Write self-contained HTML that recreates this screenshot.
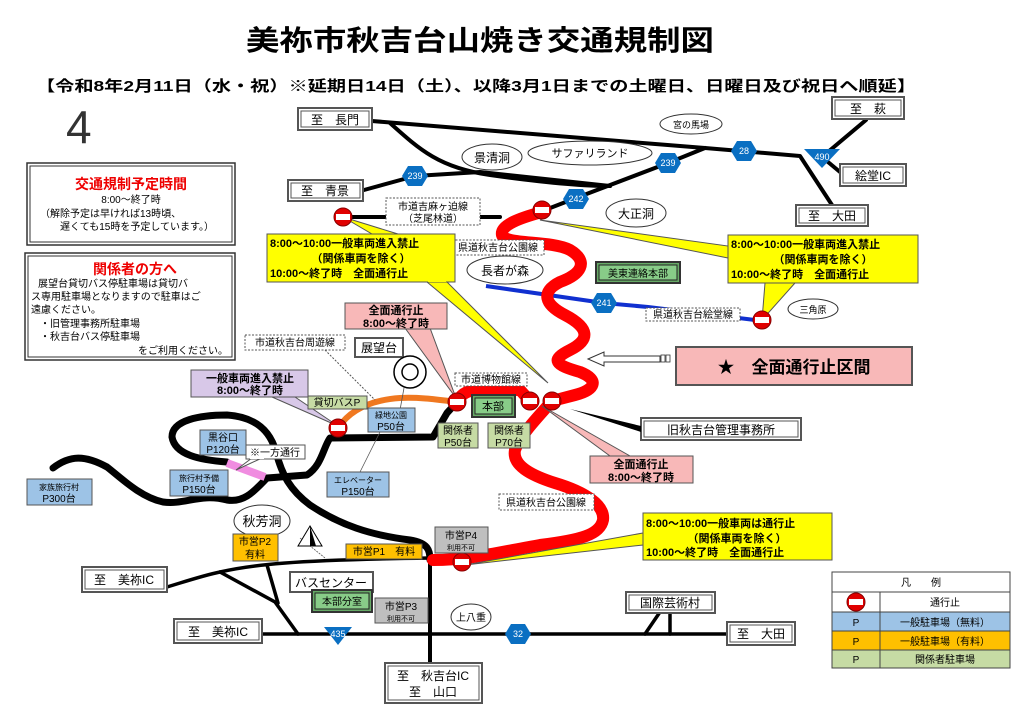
<!DOCTYPE html>
<html><head><meta charset="utf-8">
<style>
html,body{margin:0;padding:0;background:#fff;}
svg{display:block;}
text{font-family:"Liberation Sans","Noto Sans CJK JP",sans-serif;}
</style></head>
<body>
<svg width="1024" height="709" viewBox="0 0 1024 709" xmlns="http://www.w3.org/2000/svg">
<defs>
<g id="stop"><circle r="9" fill="#e00000" stroke="#800" stroke-width="1"/><rect x="-7" y="-3" width="14" height="6" fill="#fff"/></g>
<g id="hex"><polygon points="-13,0 -7,-10 7,-10 13,0 7,10 -7,10" fill="#0a6fc2"/></g>
</defs>

<!-- Title -->
<text x="480" y="50" font-size="28" font-weight="bold" text-anchor="middle" textLength="468" lengthAdjust="spacingAndGlyphs">美祢市秋吉台山焼き交通規制図</text>
<text x="36" y="91" font-size="15" font-weight="bold" textLength="880" lengthAdjust="spacingAndGlyphs">【令和8年2月11日（水・祝）※延期日14日（土）、以降3月1日までの土曜日、日曜日及び祝日へ順延】</text>
<text x="66" y="143" font-size="46" font-family="Liberation Serif" fill="#333">4</text>

<!-- Left info boxes -->
<rect x="27" y="163" width="208" height="82" fill="#fff" stroke="#333" stroke-width="1.5"/>
<rect x="30" y="166" width="202" height="76" fill="none" stroke="#333" stroke-width="1"/>
<text x="131" y="189" font-size="14" font-weight="bold" fill="#e00" text-anchor="middle">交通規制予定時間</text>
<text x="131" y="203" font-size="10" text-anchor="middle">8:00～終了時</text>
<text x="40" y="217" font-size="10">（解除予定は早ければ13時頃、</text>
<text x="60" y="230" font-size="10">遅くても15時を予定しています。）</text>

<rect x="25" y="253" width="210" height="107" fill="#fff" stroke="#333" stroke-width="1.5"/>
<rect x="28" y="256" width="204" height="101" fill="none" stroke="#333" stroke-width="1"/>
<text x="135" y="274" font-size="14" font-weight="bold" fill="#e00" text-anchor="middle">関係者の方へ</text>
<text x="38" y="287" font-size="10">展望台貸切バス停駐車場は貸切バ</text>
<text x="31" y="300" font-size="10">ス専用駐車場となりますので駐車はご</text>
<text x="31" y="313" font-size="10">遠慮ください。</text>
<text x="40" y="327" font-size="10">・旧管理事務所駐車場</text>
<text x="40" y="340" font-size="10">・秋吉台バス停駐車場</text>
<text x="138" y="354" font-size="10">をご利用ください。</text>

<!-- Black roads top -->
<g fill="none" stroke="#000" stroke-width="4" stroke-linecap="round" stroke-linejoin="round">
<path d="M372,121 L705,148 L800,156 L832,205"/>
<path d="M390,123 C420,150 440,168 490,175 C540,182 580,186 610,186"/>
<path d="M364,190 L415,176 L480,172 L610,186"/>
<path d="M545,210 L576,198 L668,163 L705,148"/>
<path d="M822,157 L866,120"/>
<path d="M822,157 L840,172"/>
<path d="M343,217 L500,217"/>
</g>
<!-- Blue road 241 -->
<path d="M486,286 L604,303 L648,307 L755,320" fill="none" stroke="#1030d0" stroke-width="4"/>

<!-- Black roads bottom -->
<g fill="none" stroke="#000" stroke-width="7" stroke-linecap="round" stroke-linejoin="round">
<path d="M457,402 L447,413 L433,437 L330,438 C323,448 322,465 307,475 L267,478"/>
<path d="M227,462 C200,460 175,455 172,437 C172,420 200,415 227,415 C255,417 270,430 276,452 C282,475 290,490 310,505 C340,525 370,535 410,540 C428,543 430,550 430,560"/>
<path d="M53,468 C70,455 85,455 107,467 C120,477 140,497 163,502 C185,505 200,493 227,500 C245,503 255,490 267,478"/>
</g>
<path d="M430,555 L430,664" stroke="#000" stroke-width="4" fill="none"/>
<path d="M227,463 L265,477" stroke="#f08ce0" stroke-width="8" fill="none"/>
<g fill="none" stroke="#000" stroke-width="3.5" stroke-linecap="round">
<path d="M167,587 C190,580 205,575 220,572 C250,565 290,560 430,558"/>
<path d="M220,572 L275,602 L298,634"/>
<path d="M267,565 L278,603"/>
<path d="M262,634 L727,634"/>
<path d="M645,634 L660,612"/>
<path d="M670,634 L670,612"/>
</g>
<!-- Orange road -->
<path d="M338,428 C350,410 370,400 400,398 C420,397 440,400 457,402" fill="none" stroke="#f07820" stroke-width="6"/>

<!-- Red road -->
<g fill="none" stroke="#f00" stroke-width="12" stroke-linecap="round" stroke-linejoin="round">
<path d="M542,212 C520,218 500,225 502,235 C505,245 550,240 570,250 C590,262 580,275 560,282 C540,292 545,305 565,315 C590,328 590,340 570,350 C550,360 555,365 580,372 C600,380 595,390 575,395 L552,401"/>
<path d="M457,402 C462,392 470,390 480,390 L520,390 L530,401"/>
<path d="M552,401 C540,415 520,435 515,450 C512,465 530,475 555,483 C585,492 605,505 603,520 C600,535 580,540 540,545 C500,552 470,560 433,560"/>
</g>

<!-- Destination boxes -->
<g font-size="12" fill="#000">
<g><rect x="298" y="108" width="74" height="22" fill="#fff" stroke="#555" stroke-width="2"/><rect x="301" y="111" width="68" height="16" fill="none" stroke="#555"/><text x="335" y="124" text-anchor="middle">至　長門</text></g>
<g><rect x="832" y="97" width="72" height="22" fill="#fff" stroke="#555" stroke-width="2"/><rect x="835" y="100" width="66" height="16" fill="none" stroke="#555"/><text x="868" y="113" text-anchor="middle">至　萩</text></g>
<g><rect x="840" y="164" width="66" height="22" fill="#fff" stroke="#555" stroke-width="2"/><rect x="843" y="167" width="60" height="16" fill="none" stroke="#555"/><text x="873" y="180" text-anchor="middle">絵堂IC</text></g>
<g><rect x="796" y="205" width="72" height="21" fill="#fff" stroke="#555" stroke-width="2"/><rect x="799" y="208" width="66" height="15" fill="none" stroke="#555"/><text x="832" y="220" text-anchor="middle">至　大田</text></g>
<g><rect x="288" y="180" width="75" height="21" fill="#fff" stroke="#555" stroke-width="2"/><rect x="291" y="183" width="69" height="15" fill="none" stroke="#555"/><text x="325" y="195" text-anchor="middle">至　青景</text></g>
<g><rect x="82" y="567" width="85" height="25" fill="#fff" stroke="#555" stroke-width="2"/><rect x="85" y="570" width="79" height="19" fill="none" stroke="#555"/><text x="124" y="584" text-anchor="middle">至　美祢IC</text></g>
<g><rect x="174" y="619" width="88" height="24" fill="#fff" stroke="#555" stroke-width="2"/><rect x="177" y="622" width="82" height="18" fill="none" stroke="#555"/><text x="218" y="636" text-anchor="middle">至　美祢IC</text></g>
<g><rect x="727" y="622" width="68" height="23" fill="#fff" stroke="#555" stroke-width="2"/><rect x="730" y="625" width="62" height="17" fill="none" stroke="#555"/><text x="761" y="638" text-anchor="middle">至　大田</text></g>
<g><rect x="626" y="592" width="89" height="21" fill="#fff" stroke="#555" stroke-width="2"/><rect x="629" y="595" width="83" height="15" fill="none" stroke="#555"/><text x="670" y="607" text-anchor="middle">国際芸術村</text></g>
<g><rect x="385" y="663" width="97" height="40" fill="#fff" stroke="#555" stroke-width="2"/><rect x="388" y="666" width="91" height="34" fill="none" stroke="#555"/><text x="433" y="680" text-anchor="middle">至　秋吉台IC</text><text x="433" y="696" text-anchor="middle">至　山口</text></g>
<g><rect x="641" y="418" width="160" height="22" fill="#fff" stroke="#555" stroke-width="2"/><rect x="644" y="421" width="154" height="16" fill="none" stroke="#555"/><text x="721" y="434" text-anchor="middle">旧秋吉台管理事務所</text></g>
<g><rect x="290" y="572" width="83" height="20" fill="#fff" stroke="#555" stroke-width="2"/><text x="331" y="587" text-anchor="middle">バスセンター</text></g>
<g><rect x="355" y="338" width="48" height="19" fill="#fff" stroke="#555" stroke-width="2"/><text x="379" y="352" text-anchor="middle">展望台</text></g>
</g>
<!-- pointer to 管理事務所 -->
<polygon points="570,409 641,426 641,432" fill="#000"/>

<!-- Ellipses -->
<g fill="#fff" stroke="#333" stroke-width="1" font-size="12" text-anchor="middle">
<ellipse cx="492" cy="157" rx="30" ry="13"/><text x="492" y="162" stroke="none" fill="#000">景清洞</text>
<ellipse cx="590" cy="153" rx="62" ry="12"/><text x="590" y="157" stroke="none" fill="#000" font-size="11">サファリランド</text>
<ellipse cx="691" cy="124" rx="31" ry="10"/><text x="691" y="128" stroke="none" fill="#000" font-size="9">宮の馬場</text>
<ellipse cx="636" cy="213" rx="30" ry="14"/><text x="636" y="218" stroke="none" fill="#000">大正洞</text>
<ellipse cx="505" cy="270" rx="38" ry="14"/><text x="505" y="275" stroke="none" fill="#000">長者が森</text>
<ellipse cx="813" cy="309" rx="25" ry="10"/><text x="813" y="313" stroke="none" fill="#000" font-size="9">三角原</text>
<ellipse cx="262" cy="521" rx="28" ry="16"/><text x="262" y="526" stroke="none" fill="#000" font-size="13">秋芳洞</text>
<ellipse cx="471" cy="617" rx="20" ry="13"/><text x="471" y="621" stroke="none" fill="#000" font-size="10">上八重</text>
</g>

<!-- Route markers -->
<g font-size="9" fill="#fff" text-anchor="middle">
<use href="#hex" x="415" y="176"/><text x="415" y="179">239</text>
<use href="#hex" x="668" y="163"/><text x="668" y="166">239</text>
<use href="#hex" x="576" y="199"/><text x="576" y="202">242</text>
<use href="#hex" x="744" y="151"/><text x="744" y="154">28</text>
<use href="#hex" x="604" y="303"/><text x="604" y="306">241</text>
<use href="#hex" x="518" y="634"/><text x="518" y="637">32</text>
<polygon points="804,149 840,149 822,168" fill="#0a6fc2"/><text x="822" y="160">490</text>
<polygon points="324,627 352,627 338,645" fill="#0a6fc2"/><text x="338" y="637">435</text>
</g>

<!-- Dotted labels -->
<g font-size="10" fill="#000">
<rect x="386" y="198" width="94" height="27" fill="#fff" stroke="#555" stroke-dasharray="2,1.5"/><text x="433" y="210" text-anchor="middle">市道吉麻ヶ迫線</text><text x="433" y="222" text-anchor="middle">（芝尾林道）</text>
<rect x="452" y="240" width="92" height="15" fill="#fff" stroke="#555" stroke-dasharray="2,1.5"/><text x="498" y="251" text-anchor="middle">県道秋吉台公園線</text>
<rect x="646" y="308" width="94" height="13" fill="#fff" stroke="#555" stroke-dasharray="2,1.5"/><text x="693" y="318" text-anchor="middle">県道秋吉台絵堂線</text>
<rect x="245" y="335" width="100" height="15" fill="#fff" stroke="#555" stroke-dasharray="2,1.5"/><text x="295" y="346" text-anchor="middle">市道秋吉台周遊線</text>
<rect x="455" y="373" width="72" height="13" fill="#fff" stroke="#555" stroke-dasharray="2,1.5"/><text x="491" y="383" text-anchor="middle">市道博物館線</text>
<rect x="499" y="494" width="95" height="16" fill="#fff" stroke="#555" stroke-dasharray="2,1.5"/><text x="546" y="506" text-anchor="middle">県道秋吉台公園線</text>
</g>
<path d="M325,350 L375,400" stroke="#555" stroke-dasharray="2,1.5" fill="none"/>
<path d="M404,388 L400,410" stroke="#555" stroke-width="0.8" fill="none"/>
<path d="M380,432 L360,472" stroke="#555" stroke-width="0.8" fill="none"/>
<path d="M300,538 L325,558" stroke="#555" stroke-width="0.8" stroke-dasharray="2,1" fill="none"/>

<!-- Target circle -->
<circle cx="410" cy="372" r="16" fill="#fff" stroke="#000" stroke-width="1.5"/>
<circle cx="410" cy="372" r="8" fill="#fff" stroke="#000" stroke-width="1.5"/>
<!-- monument -->
<polygon points="310,526 298,546 322,546" fill="#fff" stroke="#000"/><polygon points="310,526 310,546 316,546" fill="#000"/>

<!-- Arrow to 全面通行止区間 -->
<polygon points="588,359 604,352 604,356 660,356 660,362 604,362 604,366" fill="#fff" stroke="#333"/>
<rect x="661" y="355" width="4" height="7" fill="#fff" stroke="#333" stroke-width="0.8"/><rect x="666" y="355" width="4" height="7" fill="#fff" stroke="#333" stroke-width="0.8"/>
<rect x="676" y="347" width="236" height="38" fill="#f8b8b8" stroke="#555" stroke-width="2"/>
<text x="794" y="373" font-size="17" font-weight="bold" text-anchor="middle">★　全面通行止区間</text>

<!-- Callouts yellow -->
<polygon points="372,234 398,234 343,217" fill="#ff0" stroke="#555"/>
<polygon points="427,282 447,282 548,383" fill="#ff0" stroke="#555"/>
<rect x="267" y="234" width="188" height="48" fill="#ff0" stroke="#555"/>
<polygon points="372,235 398,235 390,245" fill="#ff0"/>
<rect x="428" y="279" width="18" height="3" fill="#ff0"/>
<g font-size="11" font-weight="bold">
<text x="270" y="247">8:00～10:00一般車両進入禁止</text>
<text x="361" y="262" text-anchor="middle">（関係車両を除く）</text>
<text x="270" y="277">10:00～終了時　全面通行止</text>
</g>

<polygon points="728,246 728,258 540,220" fill="#ff0" stroke="#555"/>
<polygon points="765,283 795,283 762,320" fill="#ff0" stroke="#555"/>
<rect x="728" y="235" width="190" height="48" fill="#ff0" stroke="#555"/>
<g font-size="11" font-weight="bold">
<text x="731" y="248">8:00～10:00一般車両進入禁止</text>
<text x="823" y="263" text-anchor="middle">（関係車両を除く）</text>
<text x="731" y="278">10:00～終了時　全面通行止</text>
</g>

<polygon points="643,533 643,545 465,565" fill="#ff0" stroke="#555"/>
<rect x="643" y="513" width="189" height="47" fill="#ff0" stroke="#555"/>
<g font-size="11" font-weight="bold">
<text x="646" y="527">8:00～10:00一般車両は通行止</text>
<text x="737" y="542" text-anchor="middle">（関係車両を除く）</text>
<text x="646" y="556">10:00～終了時　全面通行止</text>
</g>

<!-- Pink callouts -->
<polygon points="405,328 430,328 456,398" fill="#f8b8b8" stroke="#555"/>
<rect x="345" y="303" width="102" height="26" fill="#f8b8b8" stroke="#555"/>
<g font-size="11" font-weight="bold" text-anchor="middle"><text x="396" y="314">全面通行止</text><text x="396" y="327">8:00～終了時</text></g>

<polygon points="610,456 630,456 542,406" fill="#f8b8b8" stroke="#555"/>
<rect x="590" y="456" width="103" height="27" fill="#f8b8b8" stroke="#555"/>
<g font-size="11" font-weight="bold" text-anchor="middle"><text x="641" y="468">全面通行止</text><text x="641" y="481">8:00～終了時</text></g>

<!-- Lavender callout -->
<polygon points="272,397 295,397 338,426" fill="#d8c8e8" stroke="#555"/>
<rect x="191" y="370" width="117" height="27" fill="#d8c8e8" stroke="#555"/>
<g font-size="11" font-weight="bold" text-anchor="middle"><text x="250" y="382">一般車両進入禁止</text><text x="250" y="394">8:00～終了時</text></g>

<!-- Stops -->
<use href="#stop" x="343" y="217"/>
<use href="#stop" x="542" y="210"/>
<use href="#stop" x="762" y="320"/>
<use href="#stop" x="457" y="402"/>
<use href="#stop" x="530" y="401"/>
<use href="#stop" x="552" y="401"/>
<use href="#stop" x="338" y="428"/>
<use href="#stop" x="462" y="562"/>

<!-- Green HQ boxes -->
<g font-size="10" text-anchor="middle">
<rect x="596" y="262" width="84" height="21" fill="#6a6" stroke="#333" stroke-width="2"/><rect x="599" y="265" width="78" height="15" fill="#8c8" stroke="#222"/><text x="638" y="277">美東連絡本部</text>
<rect x="472" y="395" width="43" height="22" fill="#6a6" stroke="#333" stroke-width="2"/><rect x="475" y="398" width="37" height="16" fill="#8c8" stroke="#222"/><text x="493" y="410" font-size="11">本部</text>
<rect x="312" y="590" width="60" height="22" fill="#6a6" stroke="#333" stroke-width="2"/><rect x="315" y="593" width="54" height="16" fill="#8c8" stroke="#222"/><text x="342" y="605">本部分室</text>
</g>

<!-- Parking boxes -->
<g font-size="10" text-anchor="middle">
<rect x="368" y="408" width="47" height="24" fill="#9dc3e6" stroke="#555"/><text x="391" y="418" font-size="8">緑地公園</text><text x="391" y="430">P50台</text>
<rect x="308" y="396" width="59" height="13" fill="#c6dba4" stroke="#555"/><text x="337" y="406">貸切バスP</text>
<rect x="438" y="423" width="40" height="25" fill="#c6dba4" stroke="#555"/><text x="458" y="434">関係者</text><text x="458" y="446">P50台</text>
<rect x="488" y="423" width="42" height="25" fill="#c6dba4" stroke="#555"/><text x="509" y="434">関係者</text><text x="509" y="446">P70台</text>
<rect x="200" y="430" width="46" height="25" fill="#9dc3e6" stroke="#555"/><text x="223" y="441">黒谷口</text><text x="223" y="453">P120台</text>
<rect x="170" y="470" width="58" height="26" fill="#9dc3e6" stroke="#555"/><text x="199" y="481" font-size="8">旅行村予備</text><text x="199" y="493">P150台</text>
<rect x="27" y="479" width="65" height="26" fill="#9dc3e6" stroke="#555"/><text x="59" y="490" font-size="8">家族旅行村</text><text x="59" y="502">P300台</text>
<rect x="327" y="472" width="62" height="25" fill="#9dc3e6" stroke="#555"/><text x="358" y="483" font-size="8">エレベーター</text><text x="358" y="495">P150台</text>
<rect x="233" y="534" width="45" height="27" fill="#ffc000" stroke="#555"/><text x="255" y="545">市営P2</text><text x="255" y="558">有料</text>
<rect x="346" y="544" width="76" height="15" fill="#ffc000" stroke="#555"/><text x="384" y="555">市営P1　有料</text>
<rect x="435" y="527" width="53" height="26" fill="#bfbfbf" stroke="#555"/><text x="461" y="539">市営P4</text><text x="461" y="550" font-size="7">利用不可</text>
<rect x="375" y="598" width="53" height="25" fill="#bfbfbf" stroke="#555"/><text x="401" y="610">市営P3</text><text x="401" y="621" font-size="7">利用不可</text>
</g>
<!-- 一方通行 callout -->
<polygon points="252,458 262,458 236,470" fill="#fff" stroke="#555"/>
<rect x="246" y="445" width="59" height="14" fill="#fff" stroke="#555"/>
<rect x="250" y="456" width="14" height="3" fill="#fff"/>
<text x="275" y="456" font-size="10" text-anchor="middle">※一方通行</text>

<!-- Legend -->
<g font-size="10" text-anchor="middle">
<rect x="832" y="572" width="178" height="96" fill="#fff" stroke="#444"/>
<line x1="832" y1="592" x2="1010" y2="592" stroke="#444"/>
<text x="921" y="586">凡　　例</text>
<rect x="832" y="612" width="178" height="19" fill="#9dc3e6" stroke="#444"/>
<rect x="832" y="631" width="178" height="19" fill="#ffc000" stroke="#444"/>
<rect x="832" y="650" width="178" height="18" fill="#c6dba4" stroke="#444"/>
<line x1="880" y1="592" x2="880" y2="668" stroke="#444"/>
<use href="#stop" x="856" y="602" transform=""/>
<text x="945" y="606">通行止</text>
<text x="856" y="626">P</text><text x="945" y="626">一般駐車場（無料）</text>
<text x="856" y="645">P</text><text x="945" y="645">一般駐車場（有料）</text>
<text x="856" y="663">P</text><text x="945" y="663">関係者駐車場</text>
</g>
</svg>
</body></html>
